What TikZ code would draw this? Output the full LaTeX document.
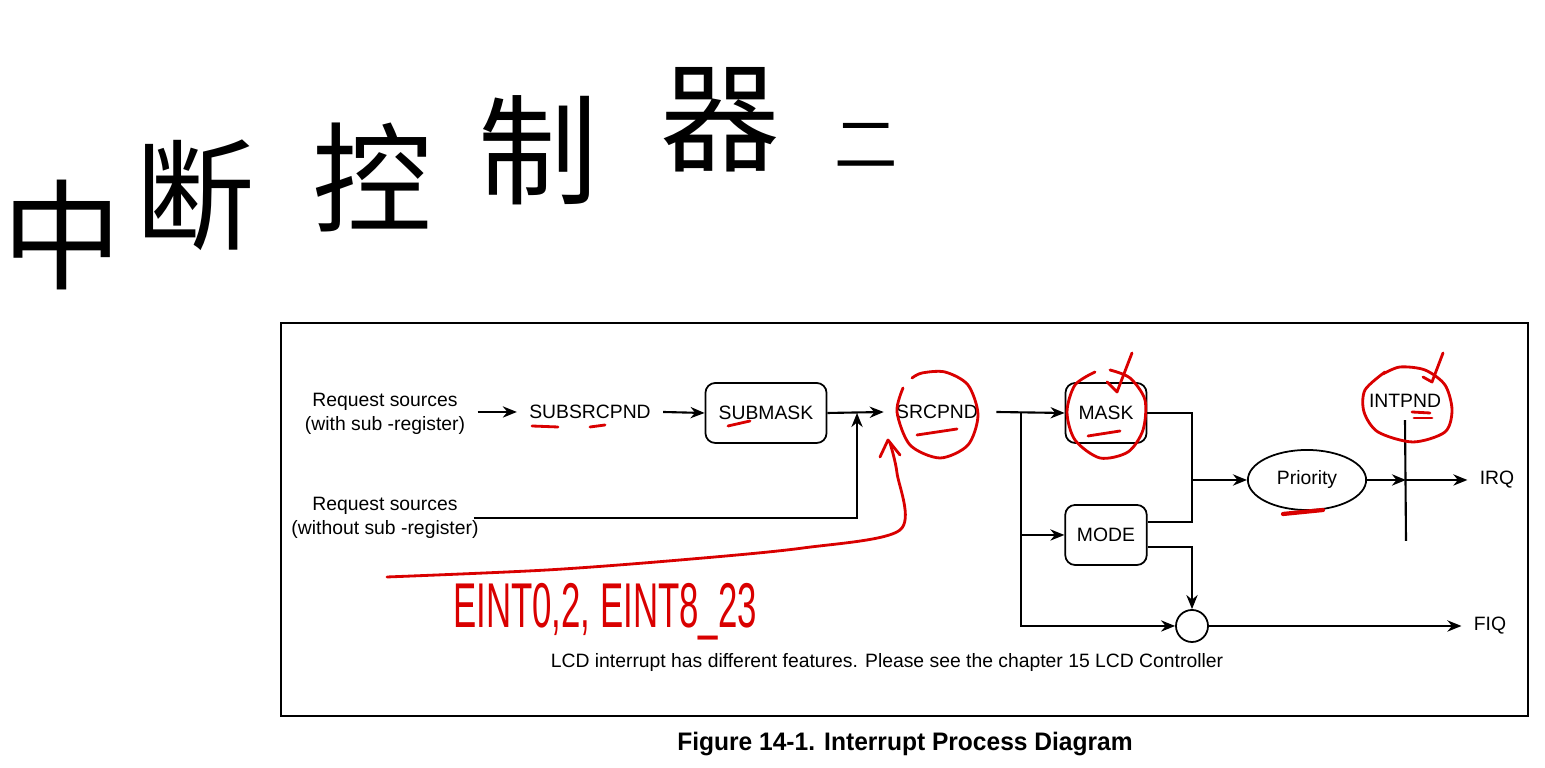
\documentclass[tikz,border=0pt]{standalone}
\usepackage{fontspec}
\usepackage{graphicx}
\setmainfont{Liberation Sans}
\newfontfamily\cjk{Noto Sans CJK SC}
\newfontfamily\capfont[FakeStretch=0.97]{Liberation Sans}
\usetikzlibrary{arrows.meta,shapes.geometric}

\begin{document}
\begin{tikzpicture}[x=0.01cm, y=-0.01cm, >={Stealth[length=4pt,width=3.2pt]},
  txt/.style={font=\fontsize{5.5}{6.8}\selectfont},
  reg/.style={txt, draw, line width=0.5pt, rounded corners=2.8pt, minimum width=0.81cm, minimum height=0.6cm},
  wire/.style={line width=0.6pt},
  pen/.style={red!85!black, line width=0.8pt, line cap=round, line join=round},
  ink/.style={font=\cjk\fontsize{34}{34}\selectfont}]
  \useasboundingbox (0,0) rectangle (1545,768);
  % handwritten title
  \node[ink] (h1) at (62,235) {中};
  \node[ink] (h2) at (195,195) {断};
  \node[ink] (h3) at (372,178) {控};
  \node[ink] (h4) at (538,150) {制};
  \node[ink] (h5) at (720,120) {器};
  \node[ink, font=\cjk\fontsize{18}{18}\selectfont] (h6) at (866,145) {二};
  % frame
  \draw[wire] (281,323) rectangle (1528,716);
  % register path
  \node[txt, align=center] (rqa) at (385,414) {Request sources\\(with sub -register)};
  \node[txt] (subsrc) at (590,412) {SUBSRCPND};
  \node[reg, minimum width=1.21cm] (submask) at (766,413) {SUBMASK};
  \node[txt] (srcpnd) at (937,412) {SRCPND};
  \node[txt, align=center] (rqb) at (385,518) {Request sources\\(without sub -register)};
  \node[reg] (mask) at (1106,413) {MASK};
  \node[reg] (mode) at (1106,535) {MODE};
  \node[txt, draw, ellipse, line width=0.5pt, minimum width=1.08cm, minimum height=0.6cm] (prio) at (1307,480) {Priority};
  \node[txt] (intpnd) at (1405,401) {INTPND};
  \node[txt] (irq) at (1497,480) {IRQ};
  \node[draw, circle, line width=0.5pt, minimum size=0.32cm, inner sep=0pt] (orc) at (1192,626) {};
  \node[txt] (fiq) at (1490,626) {FIQ};
  \node[txt] (lcd) at (887,663) {LCD interrupt has different features. Please see the chapter 15 LCD Controller};
  \node[font=\capfont\bfseries\fontsize{7.2}{8}\selectfont] (cap) at (905,744) {Figure 14-1. Interrupt Process Diagram};
  % junctions
  \coordinate (j1) at (857,413);
  \coordinate (sp) at (1021,413);
  \coordinate (mg) at (1192,480);
  \coordinate (ig) at (1406,480);
  \coordinate (ib) at (1406,541);
  % connectors
  \draw[wire, ->] (rqa.east |- subsrc) -- (subsrc.west);
  \draw[wire, ->] (subsrc.east) -- (submask.west);
  \draw[wire, ->] (submask.east) -- (srcpnd.west);
  \draw[wire, ->] ([xshift=-0.17cm]rqb.east) -| (j1);
  \draw[wire, ->] ([xshift=0.06cm]srcpnd.east) -- (mask.west);
  \draw[wire, ->] (sp) |- (orc.west);
  \draw[wire, ->] (sp |- mode) -- (mode.west);
  \draw[wire] (mask.east) -| (mg);
  \draw[wire] ([yshift=0.13cm]mode.east) -| (mg);
  \draw[wire, ->] (mg) -- (prio.west);
  \draw[wire, ->] (prio.east) -- (ig);
  \draw[wire, ->] (ig) -- (irq.west);
  \draw[wire] (intpnd.south) -- (ib);
  \draw[wire, ->] ([yshift=-0.12cm]mode.east) -| (orc.north);
  \draw[wire, ->] (orc.east) -- (fiq.west);
  % red pen marks
  \draw[pen] plot[smooth] coordinates {(903,388) (897,412) (910,445) (940,458) (968,445) (978,415) (968,385) (945,372) (922,373) (912,378)};
  \draw[pen] plot[smooth] coordinates {(1095,372) (1075,385) (1067,412) (1075,440) (1100,458) (1128,452) (1143,430) (1145,400) (1130,378) (1110,370)};
  \draw[pen] (1107,382) -- (1117,392) -- (1132,353);
  \draw[pen] plot[smooth] coordinates {(1385,372) (1365,390) (1364,412) (1378,432) (1413,442) (1445,432) (1452,410) (1445,385) (1425,370) (1400,367) (1383,374)};
  \draw[pen] (1423,377) -- (1432,382) -- (1443,353);
  \draw[pen] (1412,412) -- (1430,413);
  \draw[pen] (1414,418) -- (1432,418);
  \draw[pen, line width=1.2pt] (1283,514) -- (1323,510);
  \draw[pen] (917,435) -- (957,429);
  \draw[pen] (1088,436) -- (1120,431);
  \draw[pen] (728,426) -- (750,421);
  \draw[pen] (532,426) -- (558,427);
  \draw[pen] (590,427) -- (605,425);
  \draw[pen] plot[smooth] coordinates {(387,577) (547,570) (680,560) (803,548) (900,530) (897,473) (890,443)};
  \draw[pen] (880,457) -- (888,440) -- (900,455);
  \node[text=red!85!black, font=\fontsize{18}{18}\selectfont] (eint) at (605,612) {\scalebox{0.55}[1]{EINT0,2, EINT8\_23}};
\end{tikzpicture}
\end{document}
